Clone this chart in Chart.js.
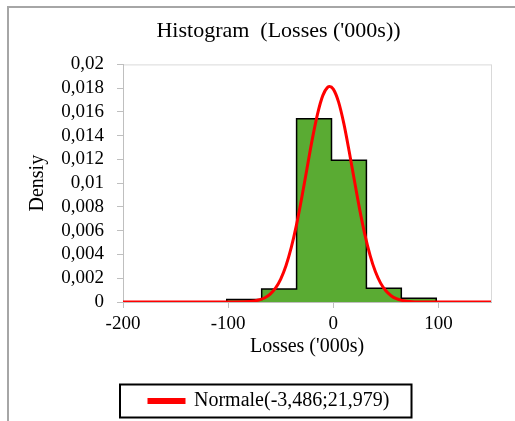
<!DOCTYPE html>
<html>
<head>
<meta charset="utf-8">
<script src="https://cdn.jsdelivr.net/npm/chart.js@4/dist/chart.umd.min.js"></script>
<style>
  html, body { margin: 0; padding: 0; background: #fff; }
  #wrap { width: 515px; height: 421px; }
</style>
</head>
<body>
<div id="wrap"><canvas id="histCanvas" width="515" height="421"></canvas></div>
<script>
// histogram bins (edges in '000s) and densities
const binEdges = [-101.3, -68.1, -34.9, -1.7, 31.5, 64.7, 97.9];
const binDensity = [0.00022, 0.00109, 0.01543, 0.01193, 0.00115, 0.00031];

// fitted normal curve, read at these x positions
const curveX = [-200, -150, -100, -80, -75, -70, -65, -60, -55, -50, -45, -40, -35, -30, -25, -20, -15, -10, -5, -3.5, 0, 5, 10, 15, 20, 25, 30, 35, 40, 45, 50, 55, 60, 65, 70, 75, 80, 100, 150];
const curveY = [0, 0, 0, 0.00004, 0.00009, 0.00019, 0.00036, 0.00067, 0.00116, 0.00193, 0.00305, 0.00457, 0.00649, 0.00877, 0.01124, 0.01369, 0.01582, 0.01737, 0.01811, 0.01815, 0.01792, 0.01685, 0.01504, 0.01274, 0.01026, 0.00784, 0.00569, 0.00392, 0.00256, 0.00159, 0.00094, 0.00053, 0.00028, 0.00014, 0.00007, 0.00003, 0.00001, 0, 0];

const xTicks = [-200, -100, 0, 100];
const curveLabel = "Normale(-3,486;21,979)";

const serif = "'Liberation Serif', 'Times New Roman', serif";

// step outline for the histogram: start at 0, hold each density until the next edge
const histPoints = [{ x: binEdges[0], y: 0 }];
binDensity.forEach((d, i) => histPoints.push({ x: binEdges[i], y: d }));
histPoints.push({ x: binEdges[binEdges.length - 1], y: 0 });

const curvePoints = curveX.map((x, i) => ({ x: x, y: curveY[i] }));

// frame, plot border and legend box like the spreadsheet picture
const decorations = {
  id: "decorations",
  afterUpdate(chart) {
    // title and legend sit a bit right of centre in the original
    const t = chart.titleBlock;
    t.left += 27;
    t.right += 27;
    const lg = chart.legend;
    const boxes = lg.legendHitBoxes;
    if (boxes && boxes.length) {
      const d = 149 - boxes[0].left;
      lg.left += d;
      lg.right += d;
      boxes.forEach((b) => { b.left += d; });
    }
  },
  beforeDraw(chart) {
    const ctx = chart.ctx;
    const a = chart.chartArea;
    ctx.save();
    ctx.strokeStyle = "#a6a6a6";
    ctx.lineWidth = 2;
    ctx.beginPath();
    ctx.moveTo(8, 421);
    ctx.lineTo(8, 7);
    ctx.lineTo(515, 7);
    ctx.stroke();
    ctx.strokeStyle = "#d9d9d9";
    ctx.lineWidth = 1;
    ctx.strokeRect(a.left + 0.5, a.top + 0.5, a.right - a.left, a.bottom - a.top);
    ctx.restore();
  },
  afterDraw(chart) {
    const boxes = chart.legend.legendHitBoxes;
    if (!boxes || !boxes.length) return;
    const b = boxes[0];
    const ctx = chart.ctx;
    const cy = b.top + b.height / 2;
    ctx.save();
    ctx.strokeStyle = "#000";
    ctx.lineWidth = 2;
    ctx.strokeRect(b.left - 29, cy - 16.5, b.width + 51, 33);
    ctx.restore();
  }
};

const ctx = document.getElementById("histCanvas").getContext("2d");
const histChart = new Chart(ctx, {
  type: "line",
  data: {
    datasets: [
      {
        label: "hist",
        data: histPoints,
        stepped: "before",
        fill: "origin",
        backgroundColor: "#5aab33",
        borderColor: "#000",
        borderWidth: 1.5,
        pointRadius: 0,
        order: 2
      },
      {
        label: curveLabel,
        data: curvePoints,
        cubicInterpolationMode: "monotone",
        fill: false,
        backgroundColor: "#ff0000",
        borderColor: "#ff0000",
        borderWidth: 3,
        pointRadius: 0,
        order: 1
      }
    ]
  },
  plugins: [decorations],
  options: {
    responsive: false,
    animation: false,
    layout: { padding: { left: 12, right: 24, top: 0, bottom: 0 } },
    plugins: {
      title: {
        display: true,
        text: "Histogram  (Losses ('000s))",
        color: "#000",
        font: { family: serif, size: 22, weight: "normal" },
        padding: { top: 18, bottom: 20 }
      },
      legend: {
        position: "bottom",
        labels: {
          color: "#000",
          font: { family: serif, size: 20 },
          boxWidth: 35,
          boxHeight: 3,
          padding: 4,
          filter: (item) => item.text !== "hist"
        }
      },
      tooltip: { enabled: false }
    },
    scales: {
      x: {
        type: "linear",
        min: -200,
        max: 150,
        afterBuildTicks: (scale) => {
          scale.ticks = xTicks.map((v) => ({ value: v }));
        },
        afterFit: (scale) => { scale.height = 85; },
        ticks: {
          color: "#000",
          font: { family: serif, size: 19 },
          padding: 5,
          maxRotation: 0
        },
        grid: { drawOnChartArea: false, drawTicks: true, tickLength: 6, color: "#bfbfbf" },
        border: { color: "#bfbfbf" },
        title: {
          display: true,
          text: "Losses ('000s)",
          color: "#000",
          font: { family: serif, size: 20 },
          padding: { top: 4, bottom: 28 }
        }
      },
      y: {
        min: 0,
        max: 0.02,
        afterFit: (scale) => { scale.width = 111; },
        ticks: {
          stepSize: 0.002,
          autoSkip: false,
          color: "#000",
          font: { family: serif, size: 19 },
          padding: 13,
          callback: (v) => String(+v.toFixed(3)).replace(".", ",")
        },
        grid: { drawOnChartArea: false, drawTicks: true, tickLength: 6, color: "#bfbfbf" },
        border: { color: "#bfbfbf" },
        title: {
          display: true,
          text: "Densiy",
          color: "#000",
          font: { family: serif, size: 20 },
          padding: { top: 14, bottom: 0 }
        }
      }
    }
  }
});
</script>
</body>
</html>
